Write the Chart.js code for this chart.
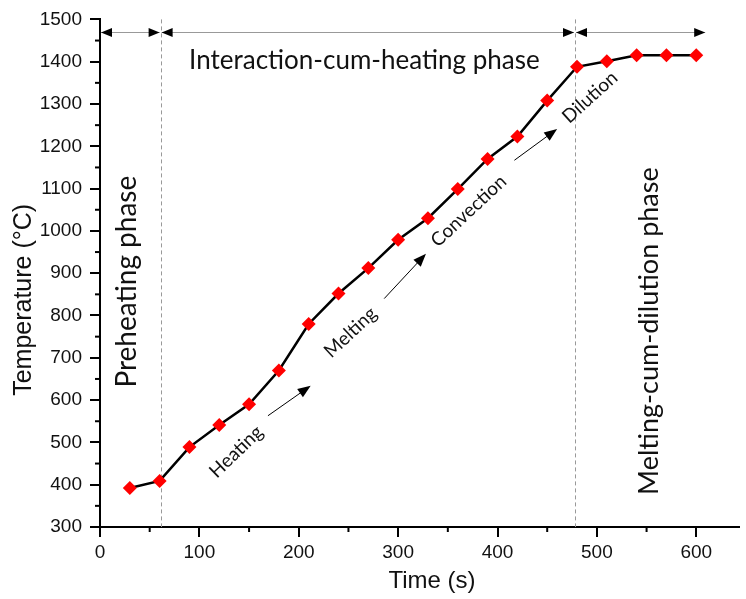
<!DOCTYPE html>
<html lang="en">
<head>
  <meta charset="UTF-8" />
  <title>Temperature vs time</title>
  <script src="https://cdn.jsdelivr.net/npm/chart.js"></script>
  <style>
    body { margin: 0; padding: 0; background: #fff; }
    .chart-container { width: 746px; height: 599px; position: relative; }
  </style>
</head>
<body>
  <div class="chart-container">
    <canvas id="tempChart"></canvas>
  </div>

  <script>
    // time (s) and temperature (°C)
    const times = [30, 60, 90, 120, 150, 180, 210, 240, 270, 300, 330, 360, 390, 420, 450, 480, 510, 540, 570, 600];
    const temps = [392, 409, 489, 541, 590, 670, 780, 852, 912, 979, 1030, 1099, 1170, 1223, 1308, 1388, 1401, 1415, 1415, 1415];

    const xTicks = [0, 100, 200, 300, 400, 500, 600];
    const yTicks = [300, 400, 500, 600, 700, 800, 900, 1000, 1100, 1200, 1300, 1400, 1500];

    const xTitle = 'Time (s)';
    const yTitle = 'Temperature (°C)';

    // phase boundaries (s) and where the top arrows run
    const phaseBounds = [0, 61, 478, 610];
    const phaseArrowY = 1471;

    // labels in data units: [text, x, y, angle in degrees, font size]
    const phaseLabels = [
      ['Interaction-cum-heating phase', 266, 1403, 0, 26],
      ['Preheating phase', 27, 880, -90, 28],
      ['Melting-cum-dilution phase', 553, 763, -90, 27]
    ];
    const stepLabels = [
      ['Heating', 137, 478, -44, 19],
      ['Melting', 252, 760, -43, 19],
      ['Convection', 371, 1047, -43, 19],
      ['Dilution', 493, 1316, -42, 19]
    ];
    // small arrows: [x0, y0, x1, y1] in data units
    const stepArrows = [
      [169, 563, 212, 634],
      [286, 840, 328, 946],
      [417, 1167, 460, 1241]
    ];

    const annoFont = 'Lato, "Open Sans", sans-serif';
    const axisFont = '"Liberation Sans", Arial, sans-serif';

    function arrowHead(ctx, x, y, ang, len, half) {
      ctx.save();
      ctx.translate(x, y);
      ctx.rotate(ang);
      ctx.beginPath();
      ctx.moveTo(0, 0);
      ctx.lineTo(-len, -half);
      ctx.lineTo(-len, half);
      ctx.closePath();
      ctx.fill();
      ctx.restore();
    }

    const annotations = {
      id: 'annotations',
      beforeDatasetsDraw(chart) {
        const {ctx, scales: {x, y}} = chart;
        ctx.save();
        // dashed phase boundaries
        ctx.strokeStyle = '#999';
        ctx.lineWidth = 1;
        ctx.setLineDash([4, 3]);
        [phaseBounds[1], phaseBounds[2]].forEach(v => {
          const px = Math.round(x.getPixelForValue(v)) + 0.5;
          ctx.beginPath();
          ctx.moveTo(px, y.getPixelForValue(1500));
          ctx.lineTo(px, y.getPixelForValue(300));
          ctx.stroke();
        });
        ctx.setLineDash([]);
        // minor ticks every 50
        ctx.strokeStyle = '#000';
        ctx.lineWidth = 2;
        for (let v = 50; v < 643; v += 100) {
          const px = x.getPixelForValue(v);
          ctx.beginPath();
          ctx.moveTo(px, y.bottom);
          ctx.lineTo(px, y.bottom + 5);
          ctx.stroke();
        }
        for (let v = 350; v < 1500; v += 100) {
          const py = y.getPixelForValue(v);
          ctx.beginPath();
          ctx.moveTo(x.left, py);
          ctx.lineTo(x.left - 5, py);
          ctx.stroke();
        }
        // axis titles
        ctx.fillStyle = '#111';
        ctx.textAlign = 'center';
        ctx.textBaseline = 'middle';
        ctx.font = '24px ' + axisFont;
        ctx.fillText(xTitle, x.getPixelForValue(334), x.bottom - 18);
        ctx.save();
        ctx.translate(24, y.getPixelForValue(837));
        ctx.rotate(-Math.PI / 2);
        ctx.font = '25px ' + axisFont;
        ctx.fillText(yTitle, 0, 0);
        ctx.restore();
        ctx.restore();
      },
      afterDatasetsDraw(chart) {
        const {ctx, scales: {x, y}} = chart;
        ctx.save();
        // top phase arrows
        const ay = Math.round(y.getPixelForValue(phaseArrowY)) + 0.5;
        ctx.strokeStyle = '#999';
        ctx.fillStyle = '#000';
        ctx.lineWidth = 1;
        for (let i = 0; i < phaseBounds.length - 1; i++) {
          const a = x.getPixelForValue(phaseBounds[i]) + 1;
          const b = x.getPixelForValue(phaseBounds[i + 1]) - 1;
          ctx.beginPath();
          ctx.moveTo(a, ay);
          ctx.lineTo(b, ay);
          ctx.stroke();
          arrowHead(ctx, a, ay, Math.PI, 11, 4.5);
          arrowHead(ctx, b, ay, 0, 11, 4.5);
        }
        // step arrows
        ctx.strokeStyle = '#000';
        stepArrows.forEach(([x0, y0, x1, y1]) => {
          const p0 = [x.getPixelForValue(x0), y.getPixelForValue(y0)];
          const p1 = [x.getPixelForValue(x1), y.getPixelForValue(y1)];
          const ang = Math.atan2(p1[1] - p0[1], p1[0] - p0[0]);
          ctx.beginPath();
          ctx.moveTo(p0[0], p0[1]);
          ctx.lineTo(p1[0] - Math.cos(ang) * 8, p1[1] - Math.sin(ang) * 8);
          ctx.stroke();
          arrowHead(ctx, p1[0], p1[1], ang, 13, 5);
        });
        // text
        ctx.fillStyle = '#111';
        ctx.textAlign = 'center';
        ctx.textBaseline = 'middle';
        phaseLabels.concat(stepLabels).forEach(([t, vx, vy, deg, size]) => {
          ctx.save();
          ctx.translate(x.getPixelForValue(vx), y.getPixelForValue(vy));
          ctx.rotate(deg * Math.PI / 180);
          ctx.font = size + 'px ' + annoFont;
          ctx.fillText(t, 0, 0);
          ctx.restore();
        });
        ctx.restore();
      }
    };

    const ctx = document.getElementById('tempChart').getContext('2d');

    const chart = new Chart(ctx, {
      type: 'scatter',
      data: {
        datasets: [{
          data: times.map((t, i) => ({x: t, y: temps[i]})),
          showLine: true,
          borderColor: '#000',
          borderWidth: 2.5,
          pointStyle: 'rectRot',
          pointRadius: 7,
          pointBackgroundColor: '#ff0000',
          pointBorderColor: '#ff0000',
          pointBorderWidth: 0
        }]
      },
      options: {
        responsive: true,
        maintainAspectRatio: false,
        animation: false,
        layout: { padding: { top: 17, right: 0, left: 0, bottom: 0 } },
        plugins: { legend: { display: false }, tooltip: { enabled: false } },
        scales: {
          x: {
            type: 'linear',
            min: 0,
            max: 643,
            afterBuildTicks: s => { s.ticks = xTicks.map(v => ({value: v})); },
            afterFit: s => { s.height = 72; },
            ticks: { autoSkip: false, color: '#111', padding: 4, callback: v => String(v), font: { family: axisFont, size: 19 } },
            grid: { drawOnChartArea: false, drawTicks: true, tickLength: 10, color: '#000', lineWidth: 2 },
            border: { display: true, color: '#000', width: 2 }
          },
          y: {
            min: 300,
            max: 1500,
            afterBuildTicks: s => { s.ticks = yTicks.map(v => ({value: v})); },
            afterFit: s => { s.width = 100; },
            ticks: { autoSkip: false, color: '#111', padding: 8, callback: v => String(v), font: { family: axisFont, size: 19 } },
            grid: { drawOnChartArea: false, drawTicks: true, tickLength: 10, color: '#000', lineWidth: 2 },
            border: { display: true, color: '#000', width: 2 }
          }
        }
      },
      plugins: [annotations]
    });
  </script>
</body>
</html>
